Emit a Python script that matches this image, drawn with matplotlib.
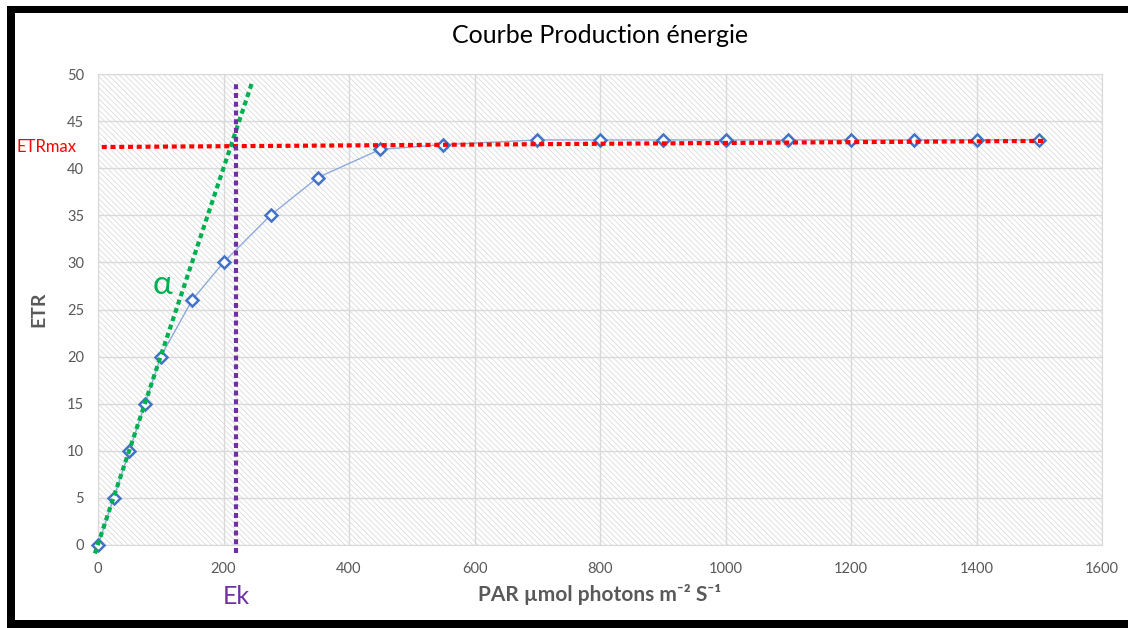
import matplotlib.pyplot as plt
from matplotlib.patches import Rectangle
import matplotlib.transforms as mtransforms

plt.rcParams['font.family'] = ['Lato', 'DejaVu Sans']
plt.rcParams['hatch.linewidth'] = 0.55

# courbe ETR en fonction du PAR
par = [0, 25, 50, 75, 100, 150, 200, 275, 350, 450, 550, 700, 800, 900,
       1000, 1100, 1200, 1300, 1400, 1500]
etr = [0, 5, 10, 15, 20, 26, 30, 35, 39, 42, 42.5, 43, 43, 43,
       43, 43, 43, 43, 43, 43]

# pente initiale (alpha), plateau ETRmax et Ek
alpha_x = [-5, 245]
alpha_y = [-0.9, 49]
etrmax_x = [6, 1510]
etrmax_y = [42.25, 42.9]
ek = 220
ek_y = [-0.8, 49.3]

x_ticks = list(range(0, 1601, 200))
y_ticks = list(range(0, 51, 5))

fig = plt.figure(figsize=(11.28, 6.28), dpi=100)
ax = fig.add_axes([98 / 1128, 83 / 628, 1004 / 1128, 471 / 628])

# fond hachuré de la zone de tracé
ax.add_patch(Rectangle((0, 0), 1, 1, transform=ax.transAxes, facecolor='white',
                       edgecolor='#d9d9d9', linewidth=0, hatch='\\' * 6,
                       zorder=0))
ax.set_xlim(0, 1600)
ax.set_ylim(0, 50)
ax.set_xticks(x_ticks)
ax.set_yticks(y_ticks)
ax.grid(True, color='#d9d9d9', linewidth=1)
ax.set_axisbelow(True)
for s in ax.spines.values():
    s.set_color('#d9d9d9')
ax.tick_params(length=0, labelsize=10.5, labelcolor='#595959')
ax.tick_params(axis='x', pad=12)
ax.tick_params(axis='y', pad=10)

ax.plot(par, etr, color='#8eaadb', linewidth=1, marker='D', markersize=6,
        markerfacecolor='white', markeredgecolor='#4472c4', markeredgewidth=1.8,
        clip_on=False, zorder=3)

dots = (0, (1.2, 0.9))
ax.plot(alpha_x, alpha_y, color='#00b050', linewidth=3, linestyle=dots,
        dash_capstyle='butt', clip_on=False, zorder=4)
ax.plot(etrmax_x, etrmax_y, color='#ff0000', linewidth=3, linestyle=dots,
        dash_capstyle='butt', clip_on=False, zorder=4)
ax.plot([ek, ek], ek_y, color='#7030a0', linewidth=3, linestyle=dots,
        dash_capstyle='butt', clip_on=False, zorder=4)

ax.set_title('Courbe Production énergie', fontsize=18, color='black', pad=22)
ax.set_xlabel('PAR µmol photons m⁻² S⁻¹', fontsize=15,
              fontweight='bold', color='#595959', labelpad=6)
ax.set_ylabel('ETR', fontsize=14, fontweight='bold', color='#595959', labelpad=14)

ax.text(16 / 1128, 42.3, 'ETRmax', transform=mtransforms.blended_transform_factory(
    fig.transFigure, ax.transData), ha='left', va='center', fontsize=12,
    color='#ff0000')
ax.text(102, 27.6, 'α', fontsize=24, color='#00b050', ha='center', va='center')
trans = mtransforms.blended_transform_factory(ax.transData, fig.transFigure)
ax.text(ek, 1 - 597 / 628, 'Ek', transform=trans, fontsize=18, color='#7030a0',
        ha='center', va='center')

# cadre noir
def bar(x0, y0, x1, y1):
    fig.patches.append(Rectangle((x0 / 1128, 1 - y1 / 628), (x1 - x0) / 1128,
                                 (y1 - y0) / 628, transform=fig.transFigure,
                                 facecolor='black', edgecolor='none'))

bar(7, 6, 1128, 13)
bar(7, 6, 15, 628)
bar(7, 620, 1128, 628)

fig.savefig('out.png', dpi=100)
